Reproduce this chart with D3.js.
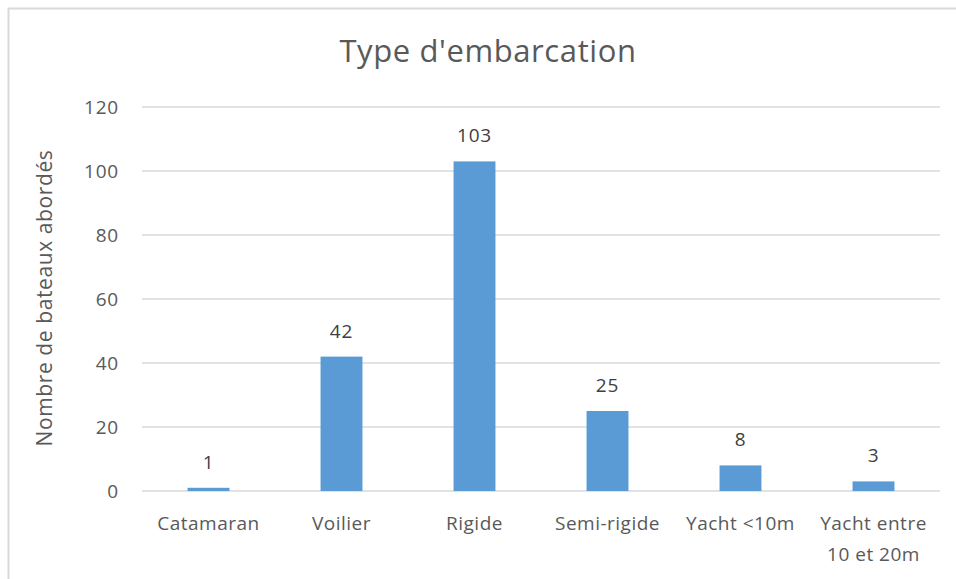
<!DOCTYPE html>
<html>
<head>
<meta charset="utf-8">
<script src="https://cdn.jsdelivr.net/npm/d3@7"></script>
<style>
  body { margin: 0; background: #fff; }
  svg { display: block; font-family: "Open Sans", "Noto Sans", sans-serif; }
</style>
</head>
<body>
<svg id="chart" width="956" height="579"></svg>
<script>
const categories = ['Catamaran', 'Voilier', 'Rigide', 'Semi-rigide', 'Yacht <10m', 'Yacht entre|10 et 20m'];
const values = [1, 42, 103, 25, 8, 3];
const yTicks = [0, 20, 40, 60, 80, 100, 120];

const svg = d3.select('#chart');
const textColor = '#595959';

// outer chart border
svg.append('rect')
  .attr('x', 8.5).attr('y', 8.5)
  .attr('width', 960).attr('height', 600)
  .attr('fill', 'none')
  .attr('stroke', '#d9d9d9')
  .attr('stroke-width', 2);

const x = d3.scaleBand().domain(categories).range([142, 940]).paddingInner(0.685).paddingOuter(0.3425);
const y = d3.scaleLinear().domain([0, 120]).range([491, 107]);

// gridlines
svg.append('g')
  .selectAll('line')
  .data(yTicks)
  .join('line')
  .attr('x1', 142).attr('x2', 940)
  .attr('y1', d => y(d)).attr('y2', d => y(d))
  .attr('stroke', '#d9d9d9')
  .attr('stroke-width', 1.3);

// y tick labels
svg.append('g')
  .selectAll('text')
  .data(yTicks)
  .join('text')
  .attr('x', 119)
  .attr('y', d => y(d))
  .attr('dy', '0.35em')
  .attr('text-anchor', 'end')
  .attr('fill', textColor)
  .attr('font-size', 19)
  .attr('letter-spacing', 0.8)
  .text(d => d);

// bars
svg.append('g')
  .selectAll('rect')
  .data(values)
  .join('rect')
  .attr('x', (d, i) => x(categories[i]))
  .attr('y', d => y(d))
  .attr('width', x.bandwidth())
  .attr('height', d => y(0) - y(d))
  .attr('fill', '#5b9bd5');

// data labels
svg.append('g')
  .selectAll('text')
  .data(values)
  .join('text')
  .attr('x', (d, i) => x(categories[i]) + x.bandwidth() / 2)
  .attr('y', d => y(d) - 19)
  .attr('text-anchor', 'middle')
  .attr('fill', '#404040')
  .attr('font-size', 19)
  .attr('letter-spacing', 0.8)
  .text(d => d);

// category labels (| splits lines)
const cat = svg.append('g')
  .selectAll('text')
  .data(categories)
  .join('text')
  .attr('x', d => x(d) + x.bandwidth() / 2)
  .attr('y', 530)
  .attr('text-anchor', 'middle')
  .attr('fill', textColor)
  .attr('font-size', 19)
  .attr('letter-spacing', 0.5);
cat.selectAll('tspan')
  .data(d => d.split('|').map((t, j) => ({ t, j, d })))
  .join('tspan')
  .attr('x', o => x(o.d) + x.bandwidth() / 2)
  .attr('dy', o => o.j ? 31 : 0)
  .text(o => o.t);

// title
svg.append('text')
  .attr('x', 488).attr('y', 62)
  .attr('text-anchor', 'middle')
  .attr('fill', textColor)
  .attr('font-size', 31)
  .attr('letter-spacing', 0.6)
  .text("Type d'embarcation");

// y axis title
svg.append('text')
  .attr('transform', 'translate(52,298) rotate(-90)')
  .attr('text-anchor', 'middle')
  .attr('fill', textColor)
  .attr('font-size', 21)
  .attr('letter-spacing', 0.6)
  .text('Nombre de bateaux abordés');
</script>
</body>
</html>
